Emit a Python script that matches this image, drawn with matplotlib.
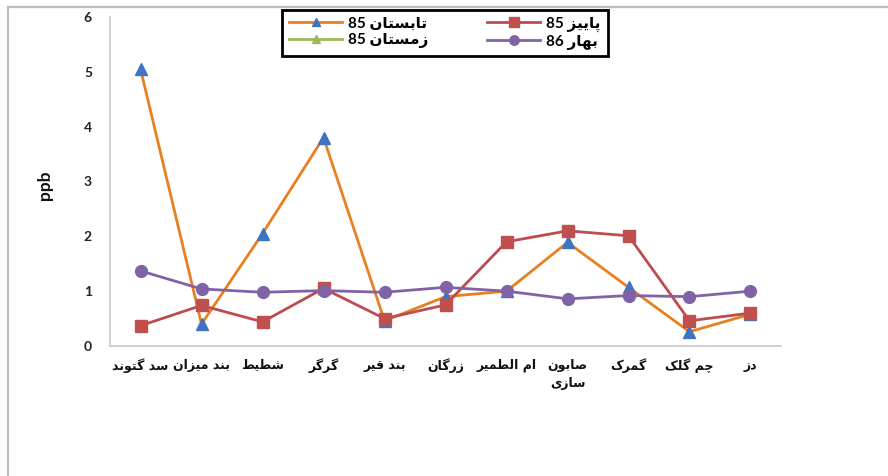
import matplotlib
matplotlib.use("Agg")
import matplotlib.pyplot as plt
from matplotlib.lines import Line2D

# Sampling stations along the river (left to right)
sites = ["سد گتوند", "بند میزان", "شطیط", "گرگر", "بند قیر", "زرگان",
         "ام الطمیر", "صابون\nسازی", "گمرک", "چم گلک", "دز"]

# Concentrations (ppb) per season
summer85 = [5.05, 0.40, 2.05, 3.80, 0.46, 0.90, 1.00, 1.89, 1.07, 0.26, 0.58]
autumn85 = [0.37, 0.74, 0.44, 1.05, 0.50, 0.75, 1.90, 2.10, 2.01, 0.46, 0.60]
winter85 = []
spring86 = [1.37, 1.04, 0.98, 1.01, 0.98, 1.07, 1.00, 0.86, 0.92, 0.90, 1.00]

series_names = ["تابستان 85", "پاییز 85", "زمستان 85", "بهار 86"]
y_ticks = [0, 1, 2, 3, 4, 5, 6]
y_label = "ppb"

# Contextual forms for Persian letters: (isolated, final, initial, medial)
FORMS = {
    'ا': ('\uFE8D', '\uFE8E', None, None),
    'ب': ('\uFE8F', '\uFE90', '\uFE91', '\uFE92'),
    'پ': ('\uFB56', '\uFB57', '\uFB58', '\uFB59'),
    'ت': ('\uFE95', '\uFE96', '\uFE97', '\uFE98'),
    'چ': ('\uFB7A', '\uFB7B', '\uFB7C', '\uFB7D'),
    'د': ('\uFEA9', '\uFEAA', None, None),
    'ر': ('\uFEAD', '\uFEAE', None, None),
    'ز': ('\uFEAF', '\uFEB0', None, None),
    'س': ('\uFEB1', '\uFEB2', '\uFEB3', '\uFEB4'),
    'ش': ('\uFEB5', '\uFEB6', '\uFEB7', '\uFEB8'),
    'ص': ('\uFEB9', '\uFEBA', '\uFEBB', '\uFEBC'),
    'ط': ('\uFEC1', '\uFEC2', '\uFEC3', '\uFEC4'),
    'ق': ('\uFED5', '\uFED6', '\uFED7', '\uFED8'),
    'ک': ('\uFB8E', '\uFB8F', '\uFB90', '\uFB91'),
    'گ': ('\uFB92', '\uFB93', '\uFB94', '\uFB95'),
    'ل': ('\uFEDD', '\uFEDE', '\uFEDF', '\uFEE0'),
    'م': ('\uFEE1', '\uFEE2', '\uFEE3', '\uFEE4'),
    'ن': ('\uFEE5', '\uFEE6', '\uFEE7', '\uFEE8'),
    'ه': ('\uFEE9', '\uFEEA', '\uFEEB', '\uFEEC'),
    'و': ('\uFEED', '\uFEEE', None, None),
    'ی': ('\uFBFC', '\uFBFD', '\uFBFE', '\uFBFF'),
}


def shape_word(word):
    out = []
    for i, ch in enumerate(word):
        f = FORMS.get(ch)
        if f is None:
            out.append(ch)
            continue
        prev = word[i - 1] if i > 0 else None
        nxt = word[i + 1] if i + 1 < len(word) else None
        join_prev = prev in FORMS and FORMS[prev][2] is not None
        join_next = nxt in FORMS and f[2] is not None
        if join_prev and join_next:
            out.append(f[3])
        elif join_prev:
            out.append(f[1])
        elif join_next:
            out.append(f[2])
        else:
            out.append(f[0])
    return ''.join(out)


def rtl(text):
    """Shape Persian text and lay it out right-to-left for display."""
    lines = []
    for line in text.split('\n'):
        tokens = line.split(' ')
        vis = []
        for t in reversed(tokens):
            if any(c in FORMS for c in t):
                vis.append(shape_word(t)[::-1])
            else:
                vis.append(t)
        lines.append(' '.join(vis))
    return '\n'.join(lines)


fig = plt.figure(figsize=(8.88, 4.76), dpi=100)
ax = fig.add_axes([0.1239, 0.2731, 0.7556, 0.6912])

x = list(range(len(sites)))

h_summer, = ax.plot(x, summer85, color='#E8801E', lw=2.0, marker='^', ms=8,
                    mfc='#3F74C0', mec='#3F74C0', zorder=3)
h_autumn, = ax.plot(x, autumn85, color='#BE4B50', lw=2.0, marker='s', ms=8.5,
                    mfc='#C0504D', mec='#C0504D', zorder=4)
h_winter, = ax.plot(range(len(winter85)), winter85, color='#9BBB59', lw=2.0,
                    marker='^', ms=8, mfc='#9BBB59', mec='#9BBB59', zorder=5)
h_spring, = ax.plot(x, spring86, color='#7F63A6', lw=2.0, marker='o', ms=8.5,
                    mfc='#7F63A6', mec='#7F63A6', zorder=6)

ax.set_xlim(-0.5, len(sites) - 0.5)
ax.set_ylim(y_ticks[0], y_ticks[-1])
ax.set_yticks(y_ticks)
ax.set_yticklabels([str(v) for v in y_ticks], fontfamily='Lato',
                   fontweight='bold', fontsize=10, color='#222222')
ax.set_xticks(x)
ax.set_xticklabels([rtl(s) for s in sites], fontfamily='DejaVu Sans',
                   fontweight='bold', fontsize=9, color='#111111',
                   linespacing=1.5, va='top')
ax.tick_params(axis='both', length=0)
ax.tick_params(axis='y', pad=13)
ax.tick_params(axis='x', pad=9)

for side in ('top', 'right'):
    ax.spines[side].set_visible(False)
for side in ('left', 'bottom'):
    ax.spines[side].set_color('#C8C8C8')
    ax.spines[side].set_linewidth(1.2)

fig.text(0.0507, 0.611, y_label, rotation=90, ha='center', va='center',
         fontfamily='Lato', fontweight='bold', fontsize=12.5, color='#111111')

leg = fig.legend([h_summer, h_winter, h_autumn, h_spring],
                 [rtl(series_names[0]), rtl(series_names[2]),
                  rtl(series_names[1]), rtl(series_names[3])],
                 ncol=2, loc='center', bbox_to_anchor=(0.501, 0.9307),
                 prop={'family': ['Lato', 'DejaVu Sans'], 'weight': 'bold',
                       'size': 11},
                 handlelength=3.5, handletextpad=0.4, columnspacing=3.8,
                 labelspacing=0.2, borderpad=0.45, borderaxespad=0.0,
                 markerscale=0.8, fancybox=False,
                 framealpha=1.0, edgecolor='black')
leg.get_frame().set_linewidth(2.0)

# Outer frame of the figure (left and top edges)
fig.add_artist(Line2D([8 / 888, 8 / 888], [0, 1 - 7 / 476],
                      transform=fig.transFigure, color='#BDBDBD', lw=1.6))
fig.add_artist(Line2D([8 / 888, 1], [1 - 7 / 476, 1 - 7 / 476],
                      transform=fig.transFigure, color='#BDBDBD', lw=1.6))

fig.savefig('out.png', dpi=100, facecolor='white')
